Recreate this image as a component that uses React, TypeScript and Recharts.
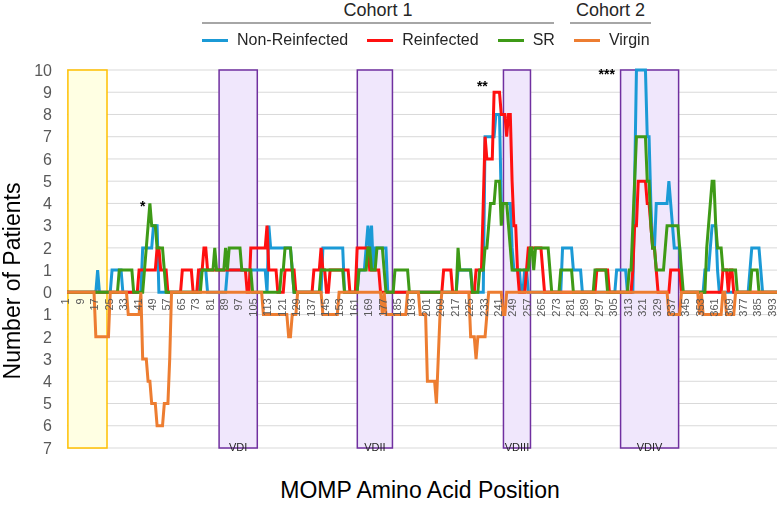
import { LineChart, Line, XAxis, YAxis, CartesianGrid, ReferenceArea, ReferenceDot, Legend } from "recharts";

// run-length values: [first position, value]
type Run = [number, number];

const nonReinfectedRuns: Run[] = [
  [1, 0], [18, 1], [19, 0], [26, 1], [32, 0], [43, 2], [49, 3], [52, 0], [75, 1], [79, 0],
  [90, 1], [112, 0], [113, 3], [114, 2], [126, 1], [127, 0], [143, 2], [155, 0], [163, 1],
  [167, 2], [168, 3], [169, 2], [170, 3], [171, 1], [172, 2], [179, 0], [218, 1], [226, 0],
  [233, 7], [239, 8], [242, 4], [248, 2], [249, 1], [253, 0], [255, 1], [257, 0], [276, 2],
  [282, 1], [287, 0], [306, 1], [312, 0], [316, 5], [317, 10], [323, 7], [325, 4], [326, 2],
  [328, 4], [335, 5], [336, 4], [337, 3], [338, 2], [342, 0], [355, 1], [358, 2], [359, 3],
  [362, 1], [363, 0], [380, 1], [381, 2], [386, 1], [387, 0],
];

const reinfectedRuns: Run[] = [
  [1, 0], [41, 1], [51, 2], [53, 1], [57, 0], [65, 1], [71, 0], [74, 1], [77, 2], [79, 1],
  [101, 0], [103, 2], [112, 3], [113, 1], [118, 0], [122, 1], [128, 0], [138, 1], [142, 2],
  [143, 1], [145, 0], [147, 1], [158, 0], [162, 2], [169, 1], [175, 0], [210, 1], [215, 0],
  [228, 1], [232, 4], [233, 7], [234, 6], [238, 9], [242, 8], [245, 7], [246, 8], [248, 5],
  [249, 3], [251, 1], [252, 0], [256, 1], [257, 2], [265, 1], [266, 0], [295, 1], [302, 0],
  [315, 1], [316, 3], [318, 5], [323, 4], [325, 3], [326, 2], [328, 1], [329, 0], [336, 1],
  [342, 0], [365, 1], [368, 0], [369, 1], [371, 0],
];

const srRuns: Run[] = [
  [1, 0], [30, 1], [38, 0], [44, 1], [45, 2], [46, 3], [47, 4], [48, 3], [51, 2], [55, 1],
  [56, 0], [76, 1], [83, 2], [84, 1], [89, 2], [90, 1], [91, 2], [98, 1], [104, 0], [120, 1],
  [122, 2], [126, 1], [127, 0], [142, 1], [155, 0], [163, 1], [168, 2], [170, 1], [173, 2],
  [177, 1], [178, 0], [183, 1], [191, 0], [218, 2], [219, 1], [226, 0], [230, 1], [233, 2],
  [235, 3], [236, 4], [239, 5], [242, 3], [243, 4], [246, 3], [247, 2], [248, 1], [258, 2],
  [260, 1], [261, 2], [269, 1], [270, 0], [275, 1], [282, 0], [294, 1], [301, 0], [313, 1],
  [315, 3], [316, 5], [317, 7], [323, 5], [325, 3], [326, 2], [328, 1], [333, 2], [334, 3],
  [341, 2], [342, 1], [343, 0], [356, 2], [357, 3], [358, 4], [359, 5], [361, 3], [362, 2],
  [365, 1], [373, 0], [381, 1], [385, 0],
];

// virgin counts are drawn below the axis
const virginRuns: Run[] = [
  [1, 0], [17, -2], [25, 0], [35, -1], [42, 0], [43, -3], [46, -4], [48, -5], [51, -6],
  [55, -5], [58, -3], [59, 0], [110, -1], [124, -2], [126, -1], [129, 0], [143, -1], [152, 0],
  [176, -1], [177, 0], [178, -1], [190, 0], [197, -1], [201, -4], [206, -5], [207, -3],
  [208, -1], [209, 0], [225, -2], [228, -3], [229, -2], [234, -1], [235, 0], [243, -1],
  [245, 0], [335, -1], [342, 0], [352, -1], [353, 0], [354, -1], [365, 0], [367, -1], [372, 0],
];

const xTickLabels = [
  1, 9, 17, 25, 33, 41, 49, 57, 65, 73, 81, 89, 97, 105, 113, 121, 129, 137, 145, 153, 161,
  169, 177, 185, 193, 201, 209, 217, 225, 233, 241, 249, 257, 265, 273, 281, 289, 297, 305,
  313, 321, 329, 337, 345, 353, 361, 369, 377, 385, 393,
];
const yTicks = [-7, -6, -5, -4, -3, -2, -1, 0, 1, 2, 3, 4, 5, 6, 7, 8, 9, 10];

const signalRegion = { start: 1.5, end: 23.2 };
const domains = [
  { name: "VDI", start: 85.4, end: 106.6 },
  { name: "VDII", start: 162.1, end: 181.6 },
  { name: "VDIII", start: 243.2, end: 258.2 },
  { name: "VDIV", start: 308.2, end: 340.4 },
];
const stars = [
  { pos: 43, value: 3.9, text: "*" },
  { pos: 231.5, value: 9.3, text: "**" },
  { pos: 300.5, value: 9.8, text: "***" },
];

const lastPos = 395;
const positions = Array.from({ length: lastPos }, (_, i) => i + 1);
const expand = (runs: Run[]) =>
  positions.map((p) => {
    let v = 0;
    for (const [s, val] of runs) if (p >= s) v = val;
    return v;
  });

const nr = expand(nonReinfectedRuns);
const re = expand(reinfectedRuns);
const sr = expand(srRuns);
const vg = expand(virginRuns);
const data = positions.map((p, i) => ({ pos: p, nonReinfected: nr[i], reinfected: re[i], sr: sr[i], virgin: vg[i] }));

const FONT = '"Liberation Sans", Arial, sans-serif';
const GREY = "#595959";

const renderLegend = (props: any) => (
  <div style={{ display: "flex", alignItems: "center", marginLeft: 202, fontFamily: FONT, fontSize: 16, color: "#262626" }}>
    {(props.payload || []).map((item: any) => (
      <div key={item.value} style={{ display: "flex", alignItems: "center", marginRight: 19 }}>
        <span style={{ display: "inline-block", width: 26, height: 3, background: item.color, marginRight: 9 }} />
        <span>{item.value}</span>
      </div>
    ))}
  </div>
);

const App = () => (
  <div style={{ position: "fixed", left: 0, top: 0, width: 777, height: 509, background: "#fff", fontFamily: FONT }}>
    <div style={{ position: "absolute", left: 202, width: 352, top: 0, textAlign: "center", fontSize: 18, color: "#262626" }}>Cohort 1</div>
    <div style={{ position: "absolute", left: 202, width: 352, top: 22, height: 2, background: "#a6a6a6" }} />
    <div style={{ position: "absolute", left: 570, width: 81, top: 0, textAlign: "center", fontSize: 18, color: "#262626" }}>Cohort 2</div>
    <div style={{ position: "absolute", left: 570, width: 81, top: 22, height: 2, background: "#a6a6a6" }} />
    <div style={{ position: "absolute", left: 0, top: 281, width: 0, height: 0 }}>
      <div style={{ position: "absolute", transform: "translate(-50%, -50%) rotate(-90deg)", left: 12, whiteSpace: "nowrap", fontSize: 23, color: "#000" }}>
        Number of Patients
      </div>
    </div>
    <div style={{ position: "absolute", left: 67, width: 706, top: 477, textAlign: "center", fontSize: 23, color: "#000" }}>
      MOMP Amino Acid Position
    </div>
    <LineChart width={777} height={509} data={data} margin={{ top: 70, right: 0, bottom: 43, left: 7 }}>
      <CartesianGrid vertical={false} stroke="#d9d9d9" />
      <XAxis dataKey="pos" type="number" domain={[1, lastPos]} hide />
      <YAxis
        domain={[-7, 10]}
        ticks={yTicks}
        interval={0}
        width={60}
        axisLine={false}
        tickLine={false}
        tickMargin={9}
        tickFormatter={(v: number) => String(Math.abs(v))}
        tick={{ fontSize: 16, fill: GREY, fontFamily: FONT }}
      />
      <ReferenceArea x1={signalRegion.start} x2={signalRegion.end} y1={-7} y2={10} fill="#ffffe3" fillOpacity={1} stroke="#ffc000" strokeWidth={1.5} />
      {domains.map((d) => (
        <ReferenceArea
          key={d.name}
          x1={d.start}
          x2={d.end}
          y1={-7}
          y2={10}
          fill="#f0e7fc"
          fillOpacity={1}
          stroke="#7030a0"
          strokeWidth={1.5}
          label={{ value: d.name, position: "insideBottom", offset: -3, fontSize: 11, fill: "#262626", fontFamily: FONT }}
        />
      ))}
      <Legend content={renderLegend} wrapperStyle={{ position: "absolute", top: 31, left: 0, width: 777 }} />
      <Line name="Non-Reinfected" dataKey="nonReinfected" type="linear" stroke="#1b9ad6" strokeWidth={3} dot={false} isAnimationActive={false} />
      <Line name="Reinfected" dataKey="reinfected" type="linear" stroke="#ff1010" strokeWidth={3} dot={false} isAnimationActive={false} />
      <Line name="SR" dataKey="sr" type="linear" stroke="#3e9a17" strokeWidth={3} dot={false} isAnimationActive={false} />
      <Line name="Virgin" dataKey="virgin" type="linear" stroke="#ed7d31" strokeWidth={3} dot={false} isAnimationActive={false} />
      {xTickLabels.map((t) => (
        <ReferenceDot
          key={t}
          x={t}
          y={0}
          r={0}
          shape={(p: any) => (
            <text
              x={p.cx - 1.5}
              y={p.cy + 6}
              transform={`rotate(-90 ${p.cx - 1.5} ${p.cy + 6})`}
              textAnchor="end"
              dominantBaseline="central"
              fontSize={11}
              fill={GREY}
              fontFamily={FONT}
            >
              {t}
            </text>
          )}
        />
      ))}
      {stars.map((s) => (
        <ReferenceDot
          key={s.text}
          x={s.pos}
          y={s.value}
          r={0}
          shape={(p: any) => (
            <text x={p.cx} y={p.cy} textAnchor="middle" dominantBaseline="central" fontSize={14} fontWeight="bold" fill="#000" fontFamily={FONT}>
              {s.text}
            </text>
          )}
        />
      ))}
    </LineChart>
  </div>
);

export default App;
